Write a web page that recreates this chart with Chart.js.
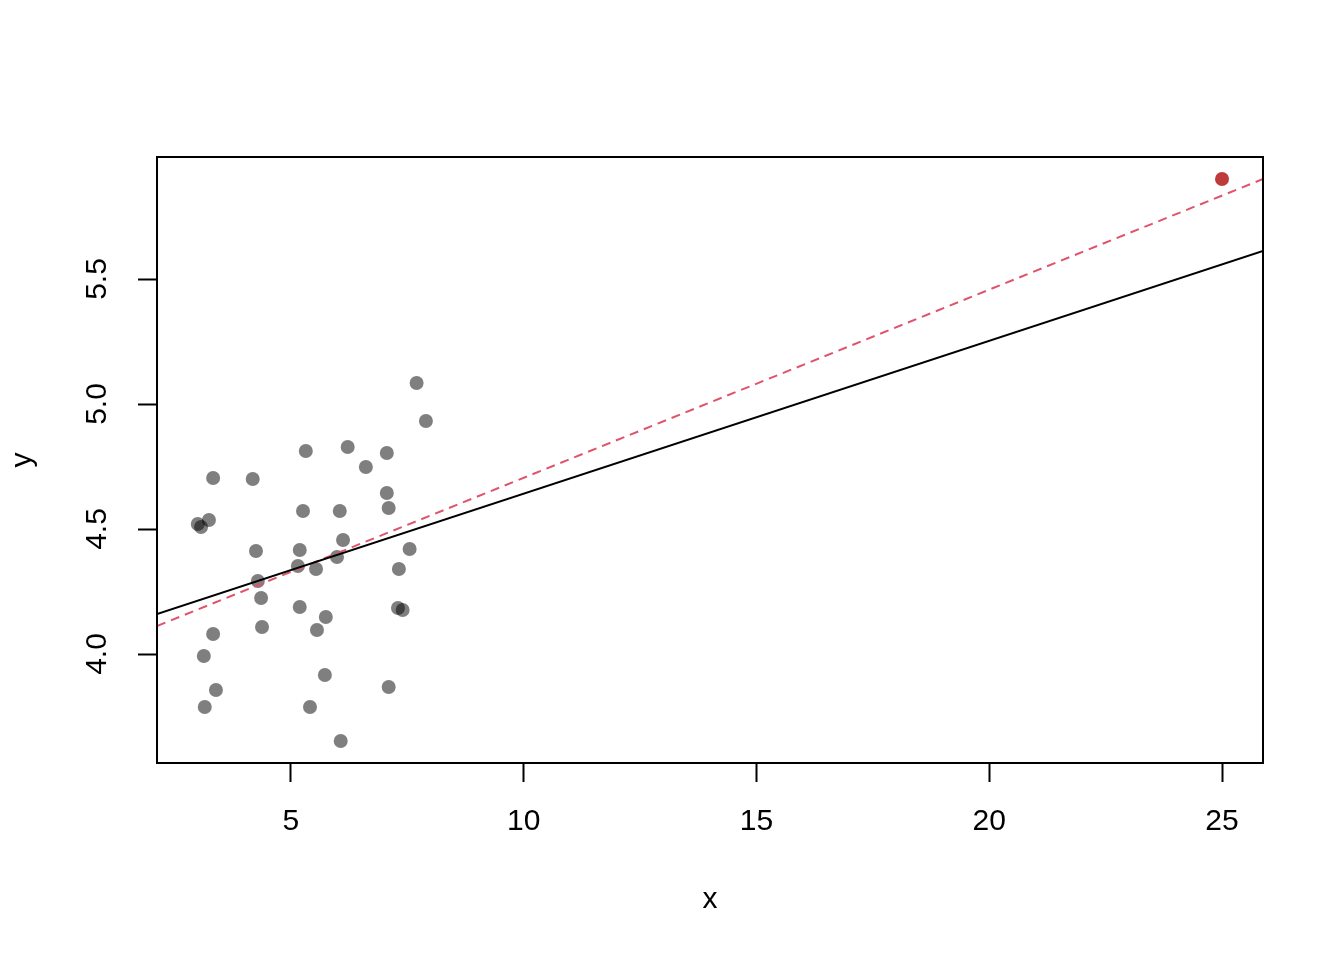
<!DOCTYPE html>
<html>
<head>
<meta charset="utf-8">
<title>y vs x</title>
<script src="https://cdn.jsdelivr.net/npm/chart.js@4.4.1/dist/chart.umd.min.js"></script>
<style>
  html, body { margin: 0; padding: 0; background: #fff; }
  #wrap { width: 1344px; height: 960px; }
</style>
</head>
<body>
<div id="wrap"><canvas id="plot"></canvas></div>
<script>
// points
const pointX = [7.70, 7.90, 6.22, 5.32, 7.06, 6.61, 3.33, 4.18, 7.06, 7.10,
                5.26, 6.05, 3.24, 3.00, 3.07, 6.12, 4.25, 5.19, 7.55, 5.99,
                5.15, 5.54, 7.32, 4.29, 4.36, 5.19, 7.30, 7.40, 5.75, 4.38,
                5.56, 3.33, 3.13, 5.73, 3.39, 7.10, 3.15, 5.41, 6.07];
const pointY = [5.084, 4.932, 4.828, 4.812, 4.804, 4.748, 4.704, 4.700, 4.644, 4.584,
                4.572, 4.572, 4.536, 4.520, 4.508, 4.456, 4.412, 4.416, 4.420, 4.388,
                4.352, 4.340, 4.340, 4.292, 4.224, 4.188, 4.184, 4.176, 4.148, 4.108,
                4.096, 4.080, 3.992, 3.916, 3.856, 3.868, 3.788, 3.788, 3.652];

// the outlier
const outlierX = [25.0];
const outlierY = [5.90];

// fitted lines, ends at the plot edges
const fitAllX = [2.124, 25.88];
const fitAllY = [4.112, 5.900];   // dashed red, with outlier
const fitCoreX = [2.124, 25.88];
const fitCoreY = [4.160, 5.612];  // solid black

const xTicks = [5, 10, 15, 20, 25];
const yTicks = [4.0, 4.5, 5.0, 5.5];

const FONT = { family: '"Liberation Sans", Arial, sans-serif', size: 30 };

function zip(xs, ys) {
  return xs.map((x, i) => ({ x, y: ys[i] }));
}

// R-style box around the plot region
const boxPlugin = {
  id: 'box',
  afterDatasetsDraw(chart) {
    const a = chart.chartArea;
    const ctx = chart.ctx;
    ctx.save();
    ctx.strokeStyle = '#000';
    ctx.lineWidth = 2;
    ctx.strokeRect(a.left, a.top, a.right - a.left, a.bottom - a.top);
    ctx.restore();
  }
};

new Chart(document.getElementById('plot'), {
  type: 'scatter',
  data: {
    datasets: [
      {
        data: zip(fitCoreX, fitCoreY),
        showLine: true,
        borderColor: '#000',
        borderWidth: 2,
        pointRadius: 0,
        order: 0,
      },
      {
        data: zip(fitAllX, fitAllY),
        showLine: true,
        borderColor: '#DF536B',
        borderWidth: 2,
        borderDash: [9, 6],
        pointRadius: 0,
        order: 1,
      },
      {
        data: zip(outlierX, outlierY),
        backgroundColor: '#BF3A3A',
        borderWidth: 0,
        pointRadius: 7,
        order: 2,
      },
      {
        data: zip(pointX, pointY),
        backgroundColor: 'rgba(0,0,0,0.5)',
        borderWidth: 0,
        pointRadius: 7,
        order: 3,
      },
    ],
  },
  options: {
    responsive: true,
    maintainAspectRatio: false,
    animation: false,
    layout: { padding: { top: 157, right: 81, left: 0, bottom: 0 } },
    plugins: { legend: { display: false }, tooltip: { enabled: false } },
    scales: {
      x: {
        type: 'linear',
        min: 2.124,
        max: 25.88,
        afterBuildTicks: (s) => { s.ticks = xTicks.map(v => ({ value: v })); },
        afterFit: (s) => { s.height = 197; },
        grid: { drawOnChartArea: false, tickLength: 19, tickColor: '#000', tickWidth: 2 },
        border: { display: false },
        ticks: { color: '#000', font: FONT, padding: 22, maxRotation: 0 },
        title: { display: true, text: 'x', color: '#000', font: FONT, padding: { top: 0, bottom: 42 } },
      },
      y: {
        type: 'linear',
        min: 3.564,
        max: 5.988,
        afterBuildTicks: (s) => { s.ticks = yTicks.map(v => ({ value: v })); },
        afterFit: (s) => { s.width = 157; },
        grid: { drawOnChartArea: false, tickLength: 19, tickColor: '#000', tickWidth: 2 },
        border: { display: false },
        ticks: {
          color: '#000', font: FONT, padding: 19,
          minRotation: 90, maxRotation: 90, crossAlign: 'center',
          callback: (v) => Number(v).toFixed(1),
        },
        title: { display: true, text: 'y', color: '#000', font: FONT, padding: { top: 5, bottom: 0 } },
      },
    },
  },
  plugins: [boxPlugin],
});
</script>
</body>
</html>
